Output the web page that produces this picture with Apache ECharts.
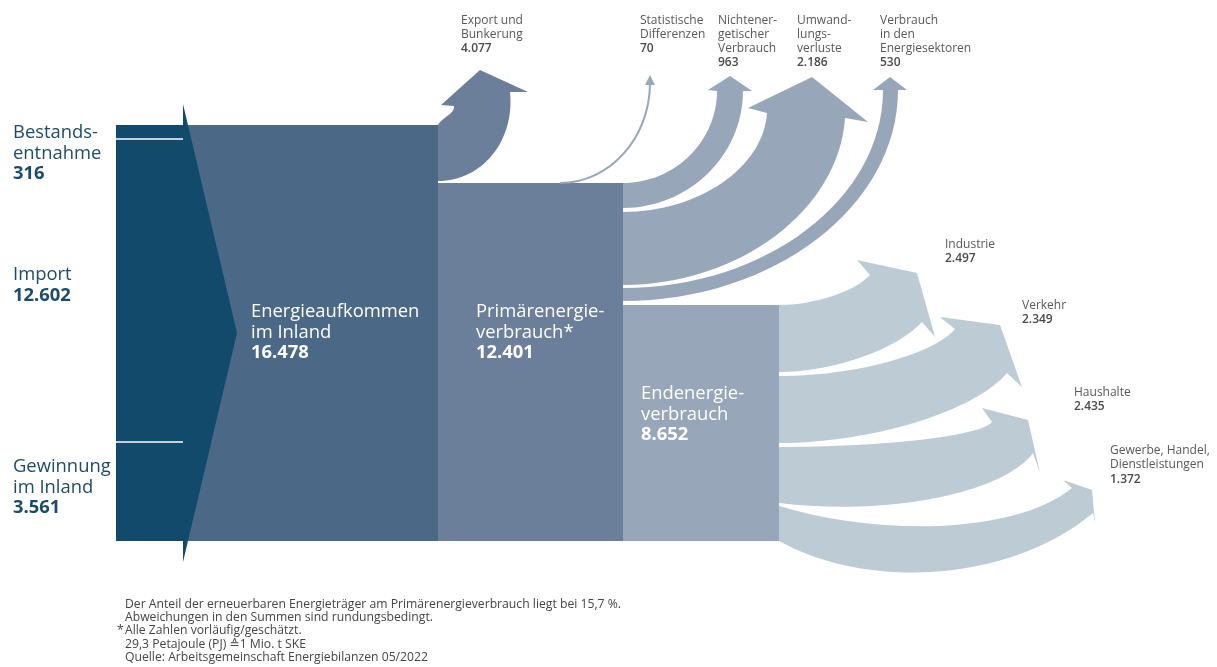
<!DOCTYPE html>
<html><head><meta charset="utf-8">
<script src="https://cdn.jsdelivr.net/npm/echarts@6/dist/echarts.min.js"></script>
<style>html,body{margin:0;padding:0;background:#fff}#c{width:1217px;height:667px}</style>
</head><body><div id="c"></div>
<script>
// ---------- DATA ----------
const sourceNames = ['Bestands-\nentnahme', 'Import', 'Gewinnung\nim Inland'];
const sourceValues = [316, 12602, 3561];
const stageNames = ['Energieaufkommen\nim Inland', 'Primärenergie-\nverbrauch*', 'Endenergie-\nverbrauch'];
const stageValues = [16478, 12401, 8652];
const outflowNames = ['Export und\nBunkerung', 'Statistische\nDifferenzen', 'Nichtener-\ngetischer\nVerbrauch', 'Umwand-\nlungs-\nverluste', 'Verbrauch\nin den\nEnergiesektoren'];
const outflowValues = [4077, 70, 963, 2186, 530];
const sectorNames = ['Industrie', 'Verkehr', 'Haushalte', 'Gewerbe, Handel,\nDienstleistungen'];
const sectorValues = [2497, 2349, 2435, 1372];
const notes = [
  'Der Anteil der erneuerbaren Energieträger am Primärenergieverbrauch liegt bei 15,7 %.',
  'Abweichungen in den Summen sind rundungsbedingt.',
  'Alle Zahlen vorläufig/geschätzt.',
  '29,3 Petajoule (PJ) \u22591 Mio. t SKE',
  'Quelle: Arbeitsgemeinschaft Energiebilanzen 05/2022'
];

function fmt(v) { return String(v).replace(/\B(?=(\d{3})+(?!\d))/g, '.'); }

// ---------- LAYOUT (diagram geometry, canvas units) ----------
const C = {
  dark: '#114a6b', aufkommen: '#4b6887', primary: '#6b7e9a',
  upper: '#97a6b9', end: '#97a6b9', lower: '#bccbd4',
  leftText: '#1c4b6c', greyText: '#585858', greyBold: '#4a4a4a', note: '#444'
};
const FONT = "'Open Sans', 'DejaVu Sans', sans-serif";
const chevron = { x0: 116, x1: 183, top: 125, bottom: 541, tipX: 237, tipY: 333, spikeTop: 104, spikeBottom: 562 };
const splitLines = [139, 442];
const blocks = [
  { x0: 183, x1: 438, y0: 125, y1: 541, color: C.aufkommen },
  { x0: 438, x1: 623, y0: 183, y1: 541, color: C.primary },
  { x0: 623, x1: 779, y0: 305, y1: 541, color: C.end }
];
const outflowGeom = [
  { x0: 438, y0: 125, y1: 181, L: [454, 106], R: [510, 92], WL: [441, 105], T: [480, 70], WR: [528, 92], d: [-0.1, -1], aUp: [0.45, -0.9], color: C.primary },
  null,
  { x0: 623, y0: 183, y1: 208, L: [717, 91], R: [743, 91], WL: [708, 90], T: [730, 76], WR: [752, 91], d: [0, -1], color: C.upper },
  { x0: 623, y0: 212, y1: 285, L: [767, 113], R: [845, 118], WL: [748, 108], T: [812, 77], WR: [868, 122], color: C.upper },
  { x0: 623, y0: 288, y1: 301, L: [883, 90], R: [898, 90], WL: [873, 90], T: [890, 77], WR: [907, 90], d: [0, -1], color: C.upper }
];
const statGeom = { start: [560, 183], end: [650, 83], WL: [645, 85], T: [650, 75], WR: [655, 85] };
const sectorGeom = [
  { x0: 779, y0: 305, y1: 372, L: [870, 275], R: [922, 322], WL: [857, 260], T: [917, 273], WR: [935, 337] },
  { x0: 779, y0: 376, y1: 443, L: [955, 329], R: [1007, 373], WL: [940, 317], T: [1000, 325], WR: [1022, 387] },
  { x0: 779, y0: 447, y1: 503, L: [992, 422], R: [1033, 453], WL: [982, 408], T: [1028, 420], WR: [1040, 473], aLow: [1, 0.12] },
  { x0: 779, y0: 506, y1: 541, L: [1072, 488], R: [1093, 513], WL: [1063, 480], T: [1092, 490], WR: [1095, 523], aUp: [1, 0.3], aLow: [1, 0.55] }
];
const sourceLabelPos = [[13, 123], [13, 265], [13, 457]];
const stageLabelPos = [[251, 302], [476, 302], [641, 384]];
const outflowLabelPos = [[461, 13], [640, 13], [718, 13], [797, 13], [880, 13]];
const sectorLabelPos = [[945, 237], [1022, 298], [1074, 385], [1110, 443]];
const notePos = { x: 125, star: 117, y: 598, lh: 13.2 };

// ---------- SHAPES ----------
const shapes = [];
blocks.forEach((b, i) => shapes.push({ kind: 'block', b, name: stageNames[i], value: stageValues[i] }));
outflowGeom.forEach((g, i) => { if (g) shapes.push({ kind: 'arrow', g, color: g.color, name: outflowNames[i], value: outflowValues[i] }); });
shapes.push({ kind: 'stat', g: statGeom, name: outflowNames[1], value: outflowValues[1] });
sectorGeom.forEach((g, i) => shapes.push({ kind: 'arrow', g, color: C.lower, name: sectorNames[i], value: sectorValues[i] }));
shapes.push({ kind: 'chevron', name: 'Aufkommen', value: sourceValues.reduce((a, b) => a + b, 0) });
shapes.push({ kind: 'labels', name: 'labels', value: 0 });

function norm(v) { const l = Math.hypot(v[0], v[1]) || 1; return [v[0] / l, v[1] / l]; }
function edgeCtrl(p0, a, end, d) {
  a = norm(a); d = norm(d);
  const rx = end[0] - p0[0], ry = end[1] - p0[1];
  const det = a[0] * d[1] - a[1] * d[0];
  let t, s, k = 0.55;
  if (Math.abs(det) > 1e-6) {
    t = (rx * d[1] - ry * d[0]) / det;
    s = (a[0] * ry - a[1] * rx) / det;
  }
  if (!(t > 0 && s > 0)) { t = s = Math.hypot(rx, ry) / 3; k = 1; }
  return [[p0[0] + a[0] * t * k, p0[1] + a[1] * t * k], [end[0] - d[0] * s * k, end[1] - d[1] * s * k]];
}

function renderItem(params, api) {
  const sh = shapes[params.dataIndex];
  const P = (p) => api.coord(p);
  const pt = (p) => { const q = P(p); return q[0].toFixed(2) + ' ' + q[1].toFixed(2); };
  if (sh.kind === 'block') {
    const b = sh.b, a = P([b.x0, b.y0]), c = P([b.x1, b.y1]);
    return { type: 'rect', shape: { x: a[0], y: a[1], width: c[0] - a[0], height: c[1] - a[1] }, style: { fill: b.color } };
  }
  if (sh.kind === 'arrow') {
    const g = sh.g;
    const v = [g.R[0] - g.L[0], g.R[1] - g.L[1]];
    const d = g.d || [v[1], -v[0]];
    const p0 = [g.x0, g.y0], p1 = [g.x0, g.y1];
    const cu = edgeCtrl(p0, g.aUp || [1, 0], g.L, d);
    const cl = edgeCtrl(p1, g.aLow || [1, 0], g.R, d);
    const path = 'M' + pt(p0) + ' C' + pt(cu[0]) + ' ' + pt(cu[1]) + ' ' + pt(g.L) +
      ' L' + pt(g.WL) + ' L' + pt(g.T) + ' L' + pt(g.WR) + ' L' + pt(g.R) +
      ' C' + pt(cl[1]) + ' ' + pt(cl[0]) + ' ' + pt(p1) + ' Z';
    return { type: 'path', shape: { pathData: path }, style: { fill: sh.color } };
  }
  if (sh.kind === 'stat') {
    const g = sh.g;
    const c = edgeCtrl(g.start, [1, 0], g.end, [0, -1]);
    return {
      type: 'group', children: [
        { type: 'path', shape: { pathData: 'M' + pt(g.start) + ' C' + pt(c[0]) + ' ' + pt(c[1]) + ' ' + pt(g.end) }, style: { fill: null, stroke: C.upper, lineWidth: 2 } },
        { type: 'polygon', shape: { points: [P(g.WL), P(g.T), P(g.WR)] }, style: { fill: C.upper } }
      ]
    };
  }
  if (sh.kind === 'chevron') {
    const ch = chevron;
    const pts = [[ch.x0, ch.top], [ch.x1, ch.top], [ch.x1, ch.spikeTop], [ch.tipX, ch.tipY], [ch.x1, ch.spikeBottom], [ch.x1, ch.bottom], [ch.x0, ch.bottom]].map(P);
    const kids = [{ type: 'polygon', shape: { points: pts }, style: { fill: C.dark } }];
    splitLines.forEach(y => {
      const a = P([ch.x0, y]), b = P([ch.x1, y]);
      kids.push({ type: 'line', shape: { x1: a[0], y1: a[1], x2: b[0], y2: b[1] }, style: { stroke: '#ffffff', lineWidth: 1.5 } });
    });
    return { type: 'group', children: kids };
  }
  // labels
  const kids = [];
  function label(pos, name, value, o) {
    const p = P(pos);
    const n = name.split('\n').length;
    kids.push({ type: 'text', x: p[0], y: p[1], style: { text: name, fill: o.color, fontSize: o.size, fontFamily: FONT, lineHeight: o.lh, align: 'left', verticalAlign: 'top' } });
    kids.push({ type: 'text', x: p[0], y: p[1] + n * o.lh, style: { text: fmt(value), fill: o.bcolor, fontSize: o.size, fontWeight: o.bw || 'bold', fontFamily: FONT, lineHeight: o.lh, align: 'left', verticalAlign: 'top' } });
  }
  sourceNames.forEach((n, i) => label(sourceLabelPos[i], n, sourceValues[i], { color: C.leftText, bcolor: C.leftText, size: 18.4, lh: 20.5 }));
  stageNames.forEach((n, i) => label(stageLabelPos[i], n, stageValues[i], { color: '#ffffff', bcolor: '#ffffff', size: 18.4, lh: 20.5 }));
  outflowNames.forEach((n, i) => label(outflowLabelPos[i], n, outflowValues[i], { color: C.greyText, bcolor: C.greyBold, size: 12, lh: 14.3, bw: 600 }));
  sectorNames.forEach((n, i) => label(sectorLabelPos[i], n, sectorValues[i], { color: C.greyText, bcolor: C.greyBold, size: 12, lh: 14.6, bw: 600 }));
  notes.forEach((t, i) => {
    const p = P([notePos.x, notePos.y + i * notePos.lh]);
    kids.push({ type: 'text', x: p[0], y: p[1], style: { text: t, fill: C.note, fontSize: 12.2, fontFamily: FONT, lineHeight: notePos.lh, align: 'left', verticalAlign: 'top' } });
  });
  const sp = P([notePos.star, notePos.y + 2 * notePos.lh]);
  kids.push({ type: 'text', x: sp[0], y: sp[1], style: { text: '*', fill: C.note, fontSize: 12.2, fontFamily: FONT, lineHeight: notePos.lh, align: 'left', verticalAlign: 'top' } });
  return { type: 'group', children: kids };
}

const chart = echarts.init(document.getElementById('c'), null, { renderer: 'canvas' });
chart.setOption({
  animation: false,
  backgroundColor: '#ffffff',
  grid: { left: 0, right: 0, top: 0, bottom: 0 },
  xAxis: { type: 'value', min: 0, max: 1217, show: false },
  yAxis: { type: 'value', min: 0, max: 667, inverse: true, show: false },
  series: [{
    type: 'custom',
    renderItem,
    clip: false,
    data: shapes.map((s, i) => ({ name: s.name, value: [i, s.value] }))
  }]
});
</script>
</body></html>
